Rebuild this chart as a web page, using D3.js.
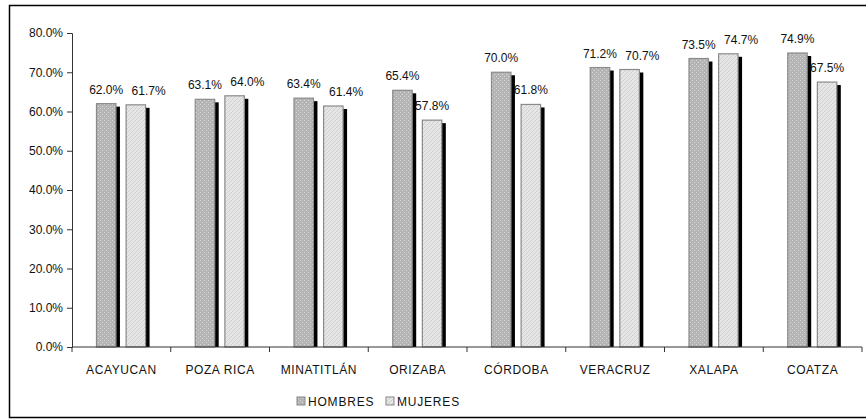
<!DOCTYPE html>
<html><head><meta charset="utf-8">
<script src="https://cdn.jsdelivr.net/npm/d3@7"></script>
<style>body{margin:0;background:#fff;} svg{display:block;font-family:"Liberation Sans",Arial,sans-serif;}</style>
</head><body>
<script>
const categories = ["ACAYUCAN","POZA RICA","MINATITLÁN","ORIZABA","CÓRDOBA","VERACRUZ","XALAPA","COATZA"];
const hombres = [62.0,63.1,63.4,65.4,70.0,71.2,73.5,74.9];
const mujeres = [61.7,64.0,61.4,57.8,61.8,70.7,74.7,67.5];
const labelsH = ["62.0%","63.1%","63.4%","65.4%","70.0%","71.2%","73.5%","74.9%"];
const labelsM = ["61.7%","64.0%","61.4%","57.8%","61.8%","70.7%","74.7%","67.5%"];
const yTicks = [0,10,20,30,40,50,60,70,80];
const seriesNames = ["HOMBRES","MUJERES"];

const W=866,H=419;
const svg=d3.select("body").append("svg").attr("width",W).attr("height",H);
const defs=svg.append("defs");
const p1=defs.append("pattern").attr("id","pH").attr("width",4).attr("height",4).attr("patternUnits","userSpaceOnUse");
p1.append("rect").attr("width",4).attr("height",4).attr("fill","#b4b4b4");
p1.append("rect").attr("x",0).attr("y",0).attr("width",1).attr("height",1).attr("fill","#d8d8d8");
p1.append("rect").attr("x",2).attr("y",2).attr("width",1).attr("height",1).attr("fill","#d8d8d8");
const p2=defs.append("pattern").attr("id","pM").attr("width",4).attr("height",4).attr("patternUnits","userSpaceOnUse");
p2.append("rect").attr("width",4).attr("height",4).attr("fill","#e6e6e6");
p2.append("path").attr("d","M0,4 L4,0").attr("stroke","#cfcfcf").attr("stroke-width",1);

// outer border
svg.append("rect").attr("x",9.5).attr("y",5.5).attr("width",870).attr("height",412).attr("fill","none").attr("stroke","#000").attr("stroke-width",1.5);

const x=d3.scaleBand().domain(categories).range([72,862]).padding(0);
const y=d3.scaleLinear().domain([0,80]).range([347,33]);

const yAxis=svg.append("g").attr("transform","translate(72,0)")
  .call(d3.axisLeft(y).tickValues(yTicks).tickSize(5).tickPadding(4).tickFormat(d=>d.toFixed(1)+"%"));
yAxis.selectAll("text").attr("font-size",12).attr("fill","#111").attr("font-family","Liberation Sans, Arial");
yAxis.selectAll("line,path").attr("stroke","#333");

const xAxis=svg.append("g").attr("transform","translate(0,347)");
const bounds=categories.map(c=>x(c)).concat([x(categories[categories.length-1])+x.bandwidth()]);
xAxis.selectAll("line.t").data(bounds).join("line").attr("class","t")
  .attr("x1",d=>d).attr("x2",d=>d).attr("y1",0).attr("y2",5).attr("stroke","#333");
xAxis.selectAll("text").data(categories).join("text")
  .attr("x",d=>x(d)+x.bandwidth()/2).attr("y",27).attr("text-anchor","middle")
  .attr("font-size",12).attr("letter-spacing","0.6px").attr("fill","#111").text(d=>d);

const bw=x.bandwidth();
const series=[{vals:hombres,labs:labelsH,off:0.248,fill:"url(#pH)"},{vals:mujeres,labs:labelsM,off:0.548,fill:"url(#pM)"}];
const barW=bw*0.197;
const labelSel=[];
series.forEach(s=>{
  const g=svg.append("g");
  g.selectAll("rect.sh").data(categories).join("rect").attr("class","sh")
    .attr("x",(d,i)=>x(d)+bw*s.off+4).attr("y",(d,i)=>y(s.vals[i])+3)
    .attr("width",barW).attr("height",(d,i)=>y(0)-y(s.vals[i])-3).attr("fill","#000");
  g.selectAll("rect.b").data(categories).join("rect").attr("class","b")
    .attr("x",(d,i)=>x(d)+bw*s.off).attr("y",(d,i)=>y(s.vals[i]))
    .attr("width",barW).attr("height",(d,i)=>y(0)-y(s.vals[i])).attr("fill",s.fill)
    .attr("stroke","#8a8a8a").attr("stroke-width",1.2);
  labelSel.push(g.selectAll("text").data(categories).join("text")
    .attr("x",(d,i)=>x(d)+bw*s.off+barW/2).attr("y",(d,i)=>y(s.vals[i])-10)
    .attr("text-anchor","middle").attr("font-size",12).attr("fill","#111").text((d,i)=>s.labs[i]));
});
// avoid overlap: nudge second-series labels right of first-series labels
const n1=labelSel[0].nodes(), n2=labelSel[1].nodes();
n2.forEach((t2,i)=>{
  const b1=n1[i].getBBox(), b2=t2.getBBox();
  const vOverlap = !(b2.y > b1.y+b1.height-1 || b1.y > b2.y+b2.height-1);
  const minLeft=b1.x+b1.width+8;
  if(vOverlap && b2.x<minLeft){
    d3.select(t2).attr("x",+d3.select(t2).attr("x")+(minLeft-b2.x));
  }
});
svg.append("line").attr("x1",72).attr("x2",862).attr("y1",347).attr("y2",347).attr("stroke","#333");

// legend
const leg=svg.append("g");
const legX=[297,386];
const fills=["url(#pH)","url(#pM)"];
seriesNames.forEach((n,i)=>{
  leg.append("rect").attr("x",legX[i]).attr("y",397).attr("width",8).attr("height",8).attr("fill",fills[i]).attr("stroke","#888");
  leg.append("text").attr("x",legX[i]+11).attr("y",405.5).attr("font-size",12).attr("letter-spacing","0.8px").attr("fill","#111").text(n);
});
</script>
</body></html>
